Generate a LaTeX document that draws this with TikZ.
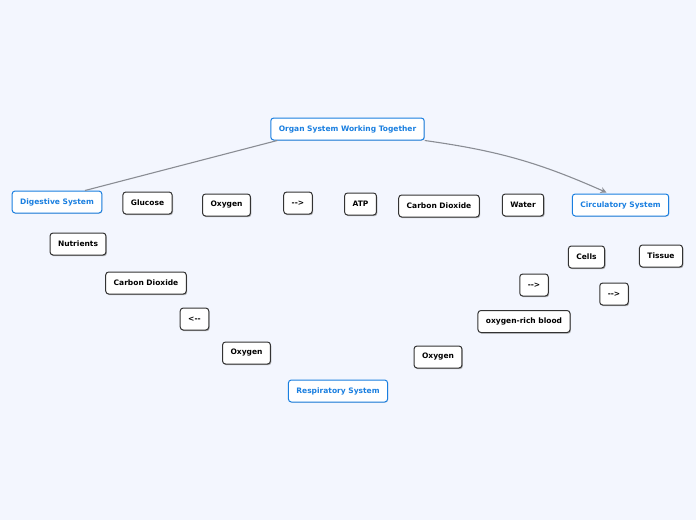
\documentclass[tikz,border=0pt]{standalone}
\usepackage{fontspec}
\setmainfont{DejaVu Sans}
\usetikzlibrary{shadows,arrows.meta}
\definecolor{bgblue}{HTML}{F3F6FE}
\definecolor{topicblue}{HTML}{1A7FE0}
\definecolor{linkgray}{HTML}{8A8D94}
\tikzset{
  mapnode/.style={rounded corners=3pt, fill=white, inner xsep=8pt,
    minimum height=22pt, font=\fontsize{7.5}{9}\selectfont\bfseries},
  topicbox/.style={mapnode, draw=topicblue, line width=1pt, text=topicblue,
    drop shadow={shadow xshift=0.6pt, shadow yshift=-0.8pt, opacity=0.25}},
  leafbox/.style={mapnode, draw=black!80, line width=1pt, text=black,
    drop shadow={shadow xshift=0.9pt, shadow yshift=-1.2pt, opacity=0.6}},
  link/.style={draw=linkgray, line width=1.1pt},
}
\begin{document}
\begin{tikzpicture}[x=1pt, y=-1pt]
  \fill[bgblue] (0,0) rectangle (696,520);
  \useasboundingbox (0,0) rectangle (696,520);
  % main topics
  \node[topicbox] (root) at (347.5,129) {Organ System Working Together};
  \node[topicbox] (dig)  at (57,202)    {Digestive System};
  \node[topicbox] (circ) at (620.5,205) {Circulatory System};
  \node[topicbox] (resp) at (338,391)   {Respiratory System};
  % top row
  \node[leafbox] (glu)   at (147.5,203) {Glucose};
  \node[leafbox] (oxa)   at (226.5,205) {Oxygen};
  \node[leafbox] (arra)  at (298,203)   {-{}->};
  \node[leafbox] (atp)   at (360.5,204) {ATP};
  \node[leafbox] (coa)   at (439,206)   {Carbon Dioxide};
  \node[leafbox] (wat)   at (523,205)   {Water};
  % left branch
  \node[leafbox] (nut)   at (78,244)    {Nutrients};
  \node[leafbox] (cob)   at (146,283)   {Carbon Dioxide};
  \node[leafbox] (arrb)  at (194.5,319) {<-{}-};
  \node[leafbox] (oxb)   at (246.5,353) {Oxygen};
  % right branch
  \node[leafbox] (oxc)   at (438,357)   {Oxygen};
  \node[leafbox] (blood) at (524,321.5) {oxygen-rich blood};
  \node[leafbox] (arrc)  at (534,285)   {-{}->};
  \node[leafbox] (cell)  at (586.5,257) {Cells};
  \node[leafbox] (tis)   at (661,256)   {Tissue};
  \node[leafbox] (arrd)  at (614,294)   {-{}->};
  % connectors
  \draw[link] ([xshift=7pt]root.south west) -- ([xshift=28pt]dig.north);
  \draw[link, -{Stealth[length=6pt, width=6pt]}] (root.south east)
    to[bend left=8] ([xshift=-14pt, yshift=1pt]circ.north);
\end{tikzpicture}
\end{document}
